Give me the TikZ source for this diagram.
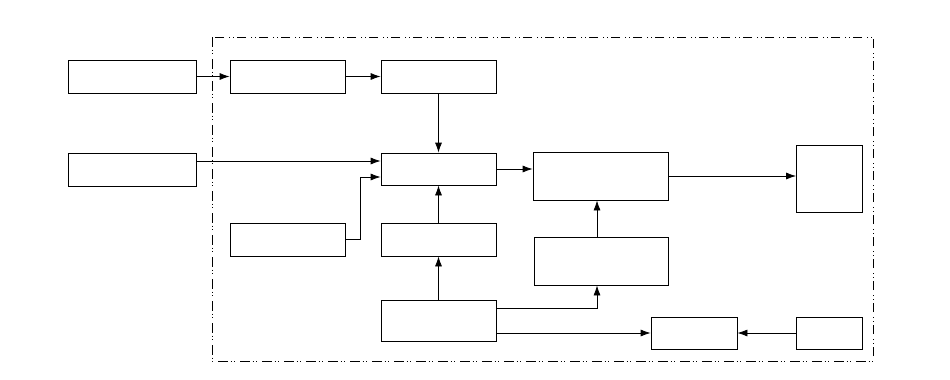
\documentclass[tikz,border=0pt]{standalone}
\usetikzlibrary{arrows.meta}
\begin{document}
\begin{tikzpicture}[x=1pt,y=-1pt,
  blk/.style={draw,line width=0.8pt,inner sep=0pt},
  conn/.style={line width=0.8pt,-{Latex[length=10pt,width=7pt]}},
  frame/.style={line width=0.8pt,dash pattern=on 9.5pt off 3pt on 1pt off 2.5pt on 1pt off 5pt}]
\useasboundingbox (0,0) rectangle (950,380);
\draw[frame] (212,37) rectangle (873,361);
% boxes
\node[blk,minimum width=128pt,minimum height=33pt] (A1) at (132,76.5) {};
\node[blk,minimum width=128pt,minimum height=33pt] (A2) at (132,169.5) {};
\node[blk,minimum width=115pt,minimum height=33pt] (B1) at (287.5,76.5) {};
\node[blk,minimum width=115pt,minimum height=33pt] (B2) at (438.5,76.5) {};
\node[blk,minimum width=115pt,minimum height=32pt] (C) at (438.5,169) {};
\node[blk,minimum width=115pt,minimum height=33pt] (D) at (287.5,239.5) {};
\node[blk,minimum width=115pt,minimum height=33pt] (E) at (438.5,239.5) {};
\node[blk,minimum width=115pt,minimum height=41pt] (F) at (438.5,320.5) {};
\node[blk,minimum width=135pt,minimum height=48pt] (H) at (600.5,176) {};
\node[blk,minimum width=134pt,minimum height=48pt] (G) at (601,261) {};
\node[blk,minimum width=66pt,minimum height=67pt] (I) at (829.5,178.5) {};
\node[blk,minimum width=86pt,minimum height=32pt] (J) at (694,333) {};
\node[blk,minimum width=66pt,minimum height=32pt] (K) at (829,333) {};
% connectors
\draw[conn] (A1.east) -- (B1.west);
\draw[conn] (B1.east) -- (B2.west);
\draw[conn] (B2.south) -- (C.north);
\draw[conn] (A2.east |- 0,161) -- (C.west |- 0,161);
\coordinate (dk) at (360.5,177);
\draw[conn] (D.east) -| (dk) -- (C.west |- dk);
\draw[conn] (E.north) -- (C.south);
\draw[conn] (F.north) -- (E.south);
\draw[conn] (C.east) -- (H.west |- C.east);
\draw[conn] (H.east) -- (I.west |- H.east);
\coordinate (gx) at (597,308);
\draw[conn] (F.east |- gx) -| (G.south -| gx);
\draw[conn] (F.east |- J.west) -- (J.west);
\draw[conn] (K.west) -- (J.east);
\draw[conn] (G.north -| gx) -- (H.south -| gx);
\end{tikzpicture}
\end{document}
